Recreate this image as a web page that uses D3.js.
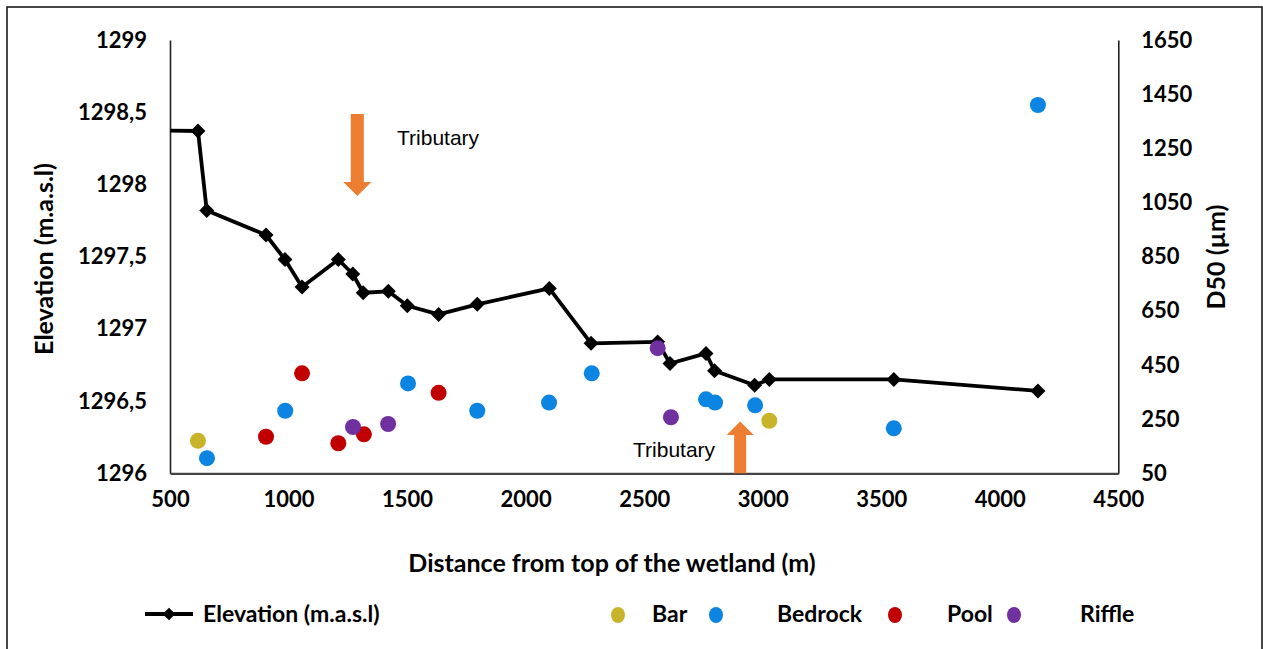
<!DOCTYPE html>
<html><head><meta charset="utf-8">
<script src="https://cdn.jsdelivr.net/npm/d3@7"></script>
<style>
body{margin:0;background:#fff;}
svg{display:block;}
.tick-lab{font-family:Lato,"Open Sans",sans-serif;font-weight:bold;font-size:22px;fill:#000;}
</style></head>
<body>
<svg id="chart" width="1263" height="649"></svg>
<script>
// ---- data ----
const elevDistance = [0, 618, 655, 905, 985, 1057, 1210, 1271, 1315, 1421, 1501, 1633, 1796, 2100, 2276, 2557, 2609, 2761, 2797, 2966, 3028, 3553, 4161];
const elevValue    = [1298.38, 1298.37, 1297.82, 1297.65, 1297.48, 1297.29, 1297.48, 1297.38, 1297.25, 1297.26, 1297.16, 1297.10, 1297.17, 1297.28, 1296.90, 1296.91, 1296.76, 1296.83, 1296.71, 1296.61, 1296.65, 1296.65, 1296.57];

const barDistance = [618, 3028];
const barD50      = [170, 244];
const bedrockDistance = [656, 986, 1504, 1796, 2099, 2279, 2761, 2799, 2968, 3553, 4161];
const bedrockD50      = [106, 281, 382, 281, 311, 419, 323, 311, 301, 216, 1410];
const poolDistance = [905, 1057, 1210, 1318, 1633];
const poolD50      = [185, 419, 161, 194, 347];
const riffleDistance = [1272, 1420, 2557, 2613];
const riffleD50      = [221, 232, 512, 257];

const xTicks = [500, 1000, 1500, 2000, 2500, 3000, 3500, 4000, 4500];
const yLeftTicks = [1296, 1296.5, 1297, 1297.5, 1298, 1298.5, 1299];
const yRightTicks = [50, 250, 450, 650, 850, 1050, 1250, 1450, 1650];
const tributaryDistance = [1290, 2905];
const seriesNames = ["Bar", "Bedrock", "Pool", "Riffle"];
const seriesColors = ["#C8B42A", "#0B84E2", "#C00000", "#7030A0"];

// ---- layout ----
const svg = d3.select("#chart");
const L = 170, R = 1118.3, T = 40, B = 473.3;
const x = d3.scaleLinear().domain([500, 4500]).range([L, R]);
const yL = d3.scaleLinear().domain([1296, 1299]).range([B, T]);
const yR = d3.scaleLinear().domain([50, 1650]).range([B, T]);

// outer frame
svg.append("rect").attr("x", 7).attr("y", 7).attr("width", 1255).attr("height", 660)
  .attr("fill", "none").attr("stroke", "#1a1a1a").attr("stroke-width", 1.6);

svg.append("defs").append("clipPath").attr("id", "plotclip")
  .append("rect").attr("x", L).attr("y", T - 10).attr("width", R - L).attr("height", B - T + 20);

// axes
const gx = svg.append("g").attr("transform", `translate(0,${B})`)
  .call(d3.axisBottom(x).tickValues(xTicks).tickSize(0).tickPadding(18).tickFormat(d3.format("d")));
const gyl = svg.append("g").attr("transform", `translate(${L},0)`)
  .call(d3.axisLeft(yL).tickValues(yLeftTicks).tickSize(0).tickPadding(23)
    .tickFormat(d => String(d).replace(".", ",")));
const gyr = svg.append("g").attr("transform", `translate(${R},0)`)
  .call(d3.axisRight(yR).tickValues(yRightTicks).tickSize(0).tickPadding(23).tickFormat(d3.format("d")));
[gx, gyl, gyr].forEach(g => {
  g.select(".domain").attr("stroke", "#222").attr("stroke-width", 1.6);
  g.selectAll("text").attr("class", "tick-lab").attr("font-size", null).attr("font-family", null);
});
gx.select(".domain").attr("stroke", "#444").attr("stroke-width", 2.2);

// titles
svg.append("text").attr("class", "tick-lab").attr("x", 612).attr("y", 572)
  .attr("text-anchor", "middle").style("font-size", "25px").text("Distance from top of the wetland (m)");
svg.append("text").attr("class", "tick-lab").attr("transform", "translate(53,259) rotate(-90)")
  .attr("text-anchor", "middle").style("font-size", "25px").text("Elevation (m.a.s.l)");
svg.append("text").attr("class", "tick-lab").attr("transform", "translate(1225,257) rotate(-90)")
  .attr("text-anchor", "middle").style("font-size", "25px").text("D50 (µm)");

// tributary arrows
const orange = "#ED7D31";
function arrowDown(cx, top, headStart, tip) {
  return `M${cx-6.5},${top} L${cx+6.5},${top} L${cx+6.5},${headStart} L${cx+14},${headStart} L${cx},${tip} L${cx-14},${headStart} L${cx-6.5},${headStart} Z`;
}
function arrowUp(cx, bottom, headStart, tip) {
  return `M${cx-6},${bottom} L${cx+6},${bottom} L${cx+6},${headStart} L${cx+13.5},${headStart} L${cx},${tip} L${cx-13.5},${headStart} L${cx-6},${headStart} Z`;
}
svg.append("path").attr("d", arrowDown(x(tributaryDistance[0]), 114, 182, 196)).attr("fill", orange);
svg.append("path").attr("d", arrowUp(x(tributaryDistance[1]), B, 435, 421.5)).attr("fill", orange);
svg.append("text").attr("x", 397).attr("y", 145).style("font-family", "'Liberation Sans', Arial, sans-serif")
  .style("font-size", "21px").text("Tributary");
svg.append("text").attr("x", 633).attr("y", 457).style("font-family", "'Liberation Sans', Arial, sans-serif")
  .style("font-size", "21px").text("Tributary");

// elevation line
const plot = svg.append("g").attr("clip-path", "url(#plotclip)");
const elev = elevDistance.map((d, i) => ({ d, v: elevValue[i] }));
plot.append("path").datum(elev)
  .attr("d", d3.line().x(p => x(p.d)).y(p => yL(p.v)))
  .attr("fill", "none").attr("stroke", "#000").attr("stroke-width", 3.8).attr("stroke-linejoin", "round");
const diamond = d3.symbol(d3.symbolSquare, 112);
plot.selectAll(".mk").data(elev).join("path")
  .attr("transform", p => `translate(${x(p.d)},${yL(p.v)}) rotate(45)`)
  .attr("d", diamond).attr("fill", "#000");

// scatter series
const scatter = [
  { dist: barDistance, d50: barD50 },
  { dist: bedrockDistance, d50: bedrockD50 },
  { dist: poolDistance, d50: poolD50 },
  { dist: riffleDistance, d50: riffleD50 }
];
scatter.forEach((s, k) => {
  svg.append("g").selectAll("circle").data(s.dist.map((d, i) => ({ d, v: s.d50[i] })))
    .join("circle").attr("cx", p => x(p.d)).attr("cy", p => yR(p.v)).attr("r", 8)
    .attr("fill", seriesColors[k]);
});

// legend
const ly = 614;
const lg = svg.append("g");
lg.append("line").attr("x1", 145).attr("x2", 193).attr("y1", ly).attr("y2", ly)
  .attr("stroke", "#000").attr("stroke-width", 3.8);
lg.append("path").attr("transform", `translate(169,${ly}) rotate(45)`).attr("d", d3.symbol(d3.symbolSquare, 80)).attr("fill", "#000");
lg.append("text").attr("class", "tick-lab").attr("x", 203).attr("y", ly + 8).style("font-size", "23px").text("Elevation (m.a.s.l)");
const legDotX = [618, 716, 895, 1014];
const legTextX = [652, 777, 947, 1080];
seriesNames.forEach((n, k) => {
  lg.append("ellipse").attr("cx", legDotX[k]).attr("cy", ly + 1).attr("rx", 7).attr("ry", 8).attr("fill", seriesColors[k]);
  lg.append("text").attr("class", "tick-lab").attr("x", legTextX[k]).attr("y", ly + 8).style("font-size", "23px").text(n);
});
</script>
</body></html>
